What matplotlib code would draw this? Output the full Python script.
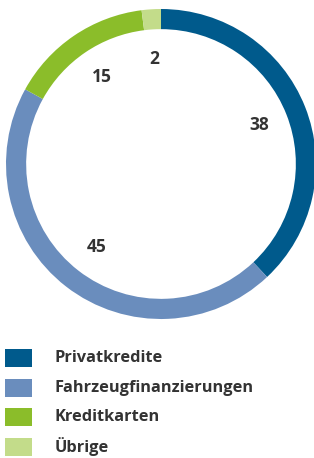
import matplotlib
matplotlib.use('Agg')
import matplotlib.pyplot as plt
import matplotlib.patches as mpatches

categories = ['Privatkredite', 'Fahrzeugfinanzierungen', 'Kreditkarten', 'Übrige']
values = [38, 45, 15, 2]
colors = ['#005a8c', '#6a8dbd', '#8bbd2a', '#c3dc8a']
text_color = '#333333'

W, H = 314, 458
fig = plt.figure(figsize=(W / 100, H / 100), dpi=100)

# donut, centre approx (161, 164) px, outer radius 155 px
cx, cy, r = 161, 164, 155
ax = fig.add_axes([(cx - r) / W, (H - cy - r) / H, 2 * r / W, 2 * r / H])
wedges, texts = ax.pie(values, colors=colors, startangle=90, counterclock=False,
                       radius=1.0, wedgeprops=dict(width=0.13, linewidth=0),
                       labels=[str(v) for v in values], labeldistance=0.68,
                       textprops=dict(fontsize=12.5, fontweight='bold',
                                      color=text_color, family='Open Sans'))
for t in texts:
    t.set_ha('center')
    t.set_va('center')
ax.set_xlim(-1, 1)
ax.set_ylim(-1, 1)
ax.set_aspect('equal')
ax.axis('off')

# legend
row_y = [358, 388, 417, 447]
for name, col, y in zip(categories, colors, row_y):
    fig.add_artist(mpatches.Rectangle((5 / W, (H - y - 9) / H), 27 / W, 18 / H,
                                      transform=fig.transFigure, color=col, lw=0))
    fig.text(55 / W, (H - y) / H, name, ha='left', va='center', fontsize=11.8,
             fontweight='bold', color=text_color, family='Open Sans')

fig.savefig('out.png', dpi=100)
